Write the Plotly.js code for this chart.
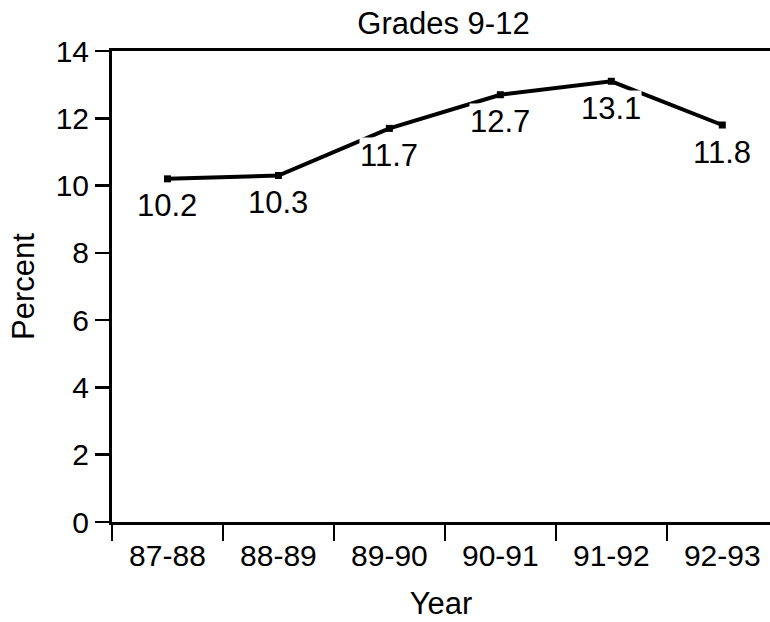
<!DOCTYPE html>
<html>
<head>
<meta charset="utf-8">
<script src="https://cdn.plot.ly/plotly-3.0.1.min.js"></script>
<style>html,body{margin:0;padding:0;background:#fff;}#chart{width:770px;height:622px;}</style>
</head>
<body>
<div id="chart"></div>
<script>
const years = ["87-88", "88-89", "89-90", "90-91", "91-92", "92-93"];
const percent = [10.2, 10.3, 11.7, 12.7, 13.1, 11.8];
const labels = ["10.2", "10.3", "11.7", "12.7", "13.1", "11.8"];
const yTicks = [0, 2, 4, 6, 8, 10, 12, 14];

const FONT = "Liberation Sans, Arial, Helvetica, sans-serif";

const trace = {
  x: years,
  y: percent,
  type: "scatter",
  mode: "lines+markers",
  line: {color: "#000", width: 4},
  marker: {symbol: "square", size: 7, color: "#000"},
  hoverinfo: "skip"
};

const annotations = years.map((yr, i) => ({
  x: yr, y: percent[i], xref: "x", yref: "y",
  text: labels[i], showarrow: false,
  yshift: -27, bgcolor: "#fff", borderpad: 0,
  font: {family: FONT, size: 31, color: "#000"}
}));

const layout = {
  width: 770, height: 622,
  margin: {l: 112, r: 0, t: 51, b: 100},
  paper_bgcolor: "#fff", plot_bgcolor: "#fff",
  showlegend: false,
  font: {family: FONT, size: 31, color: "#000"},
  title: {text: "Grades 9-12", font: {family: FONT, size: 31, color: "#000"},
          xref: "container", yref: "container", x: 0.576, y: 0.962, xanchor: "center", yanchor: "middle"},
  xaxis: {
    type: "category", range: [-0.5, 5.43],
    showline: true, linecolor: "#000", linewidth: 3, mirror: true,
    ticks: "outside", tickson: "boundaries", ticklen: 16, tickwidth: 2.5, tickcolor: "#000",
    ticklabelstandoff: 5,
    showgrid: false, zeroline: false,
    tickfont: {family: FONT, size: 30, color: "#000"},
    title: {text: "Year", font: {family: FONT, size: 31, color: "#000"}, standoff: 22}
  },
  yaxis: {
    range: [0, 14], tickvals: yTicks,
    showline: true, linecolor: "#000", linewidth: 3, mirror: false,
    ticks: "outside", ticklen: 14, tickwidth: 2.5, tickcolor: "#000",
    showgrid: false, zeroline: false,
    tickfont: {family: FONT, size: 30, color: "#000"},
    title: {text: "Percent", font: {family: FONT, size: 31, color: "#000"}, standoff: 12}
  },
  annotations: annotations
};

Plotly.newPlot("chart", [trace], layout, {staticPlot: true, displayModeBar: false});
</script>
</body>
</html>
